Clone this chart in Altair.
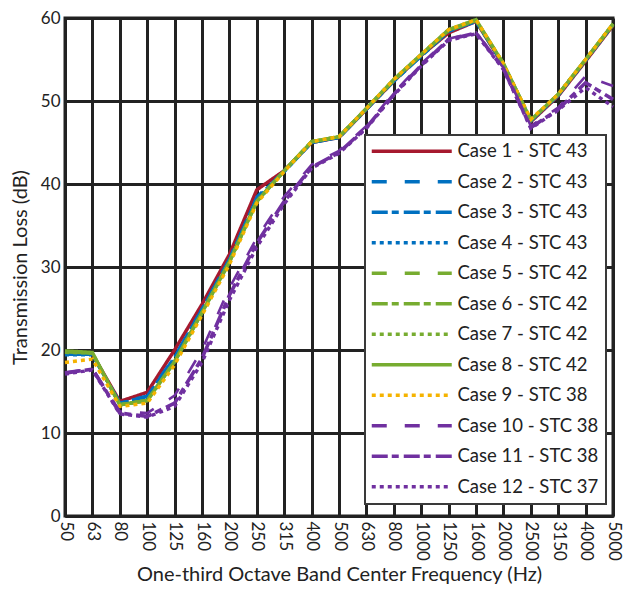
import altair as alt
import pandas as pd

freqs = ["50", "63", "80", "100", "125", "160", "200", "250", "315", "400", "500",
         "630", "800", "1000", "1250", "1600", "2000", "2500", "3150", "4000", "5000"]

labels = ["Case 1 - STC 43", "Case 2 - STC 43", "Case 3 - STC 43", "Case 4 - STC 43",
          "Case 5 - STC 42", "Case 6 - STC 42", "Case 7 - STC 42", "Case 8 - STC 42",
          "Case 9 - STC 38", "Case 10 - STC 38", "Case 11 - STC 38", "Case 12 - STC 37"]

case1 = [19.5, 19.5, 13.8, 14.9, 20.0, 25.5, 31.5, 39.3, 41.6, 45.0, 45.6, 49.0, 52.4, 55.5, 58.2, 59.6, 54.3, 47.5, 50.6, 54.8, 59.1]
case2 = [19.6, 19.4, 13.7, 14.5, 19.3, 25.0, 31.0, 38.5, 41.6, 45.0, 45.6, 49.0, 52.4, 55.5, 58.4, 59.6, 54.4, 47.6, 50.7, 54.9, 59.2]
case3 = [19.5, 19.5, 13.6, 14.4, 19.1, 24.9, 30.9, 38.3, 41.5, 45.0, 45.6, 49.0, 52.4, 55.4, 58.4, 59.6, 54.4, 47.6, 50.7, 54.9, 59.2]
case4 = [19.4, 19.4, 13.6, 14.3, 19.0, 24.8, 30.8, 38.2, 41.5, 45.0, 45.6, 49.1, 52.5, 55.5, 58.5, 59.7, 54.4, 47.6, 50.7, 54.9, 59.2]
case5 = [19.8, 19.6, 13.5, 14.0, 18.7, 24.6, 30.7, 38.0, 41.6, 45.1, 45.7, 49.1, 52.5, 55.6, 58.5, 59.7, 54.5, 47.7, 50.8, 55.0, 59.2]
case6 = [19.8, 19.6, 13.4, 13.9, 18.6, 24.5, 30.6, 37.9, 41.6, 45.1, 45.7, 49.1, 52.5, 55.6, 58.5, 59.7, 54.5, 47.7, 50.8, 55.0, 59.2]
case7 = [19.7, 19.6, 13.4, 13.9, 18.6, 24.5, 30.6, 37.9, 41.6, 45.1, 45.7, 49.1, 52.6, 55.6, 58.6, 59.7, 54.5, 47.7, 50.8, 55.0, 59.3]
case8 = [19.9, 19.7, 13.4, 13.9, 18.6, 24.5, 30.6, 37.9, 41.6, 45.1, 45.7, 49.1, 52.6, 55.6, 58.6, 59.8, 54.5, 47.7, 50.8, 55.0, 59.3]
case9 = [18.5, 18.9, 13.2, 13.6, 18.2, 24.2, 30.3, 37.7, 41.5, 45.1, 45.7, 49.1, 52.6, 55.6, 58.6, 59.8, 54.5, 47.8, 50.8, 55.0, 59.3]
case10 = [17.3, 17.8, 12.6, 12.4, 14.5, 20.0, 27.5, 33.5, 38.5, 42.3, 44.0, 47.0, 51.0, 54.5, 57.5, 58.3, 54.0, 47.0, 49.2, 53.0, 51.8]
case11 = [17.2, 17.7, 12.4, 12.0, 13.6, 19.0, 26.6, 32.9, 37.9, 42.0, 43.8, 46.8, 50.8, 54.3, 57.4, 58.2, 53.9, 46.8, 49.0, 52.2, 50.2]
case12 = [17.1, 17.6, 12.3, 11.9, 13.2, 18.5, 26.0, 32.4, 37.6, 41.9, 43.7, 46.7, 50.7, 54.2, 57.3, 58.1, 53.8, 46.7, 48.9, 51.6, 49.3]

series = [case1, case2, case3, case4, case5, case6, case7, case8, case9, case10, case11, case12]

colors = ["#A6192E", "#0070C0", "#0070C0", "#0070C0", "#77AC30", "#77AC30", "#77AC30", "#77AC30",
          "#F5B300", "#7030A0", "#7030A0", "#7030A0"]
dashes = [[1, 0], [15, 18], [16, 4, 7, 5], [4, 4], [15, 18], [16, 4, 7, 5], [4, 4], [1, 0],
          [4, 4], [15, 18], [16, 4, 7, 5], [4, 4]]
widths = [3.5, 2.5, 3.5, 3.2, 2.2, 3.5, 3.2, 3.5, 3.4, 2.6, 3.6, 3.4]

rows = []
for lab, vals, w in zip(labels, series, widths):
    for f, v in zip(freqs, vals):
        rows.append({"freq": f, "tl": v, "case": lab, "w": w})
df = pd.DataFrame(rows)

FONT = "Lato"
INK = "#222222"

legend = alt.Legend(
    title=None,
    orient="none",
    legendX=300,
    legendY=117,
    symbolType="M-1.9,0H14.1",
    symbolSize=100,
    symbolStrokeWidth=3.5,
    labelOffset=67,
    labelFontSize=18.5,
    labelFont=FONT,
    labelColor=INK,
    labelLimit=400,
    rowPadding=11.5,
    padding=7,
    fillColor="white",
    strokeColor="#3a3a3a",
)

chart = alt.Chart(df).mark_line().encode(
    x=alt.X("freq:N", sort=freqs, scale=alt.Scale(type="point", padding=0),
            axis=alt.Axis(title="One-third Octave Band Center Frequency (Hz)", labelAngle=90,
                          grid=True, ticks=False, labelPadding=5, titlePadding=4)),
    y=alt.Y("tl:Q", scale=alt.Scale(domain=[0, 60], nice=False),
            axis=alt.Axis(title="Transmission Loss (dB)", values=[0, 10, 20, 30, 40, 50, 60],
                          grid=True, ticks=False, labelPadding=5, titlePadding=10)),
    color=alt.Color("case:N", scale=alt.Scale(domain=labels, range=colors), legend=legend),
    strokeDash=alt.StrokeDash("case:N", scale=alt.Scale(domain=labels, range=dashes), legend=legend),
    strokeWidth=alt.StrokeWidth("w:Q", scale=None),
).properties(
    width=548,
    height=498,
    autosize=alt.AutoSizeParams(type="none"),
    padding={"left": 57, "top": 10, "right": 12, "bottom": 70},
).configure_view(
    stroke=INK, strokeWidth=3
).configure_axis(
    gridColor=INK, gridWidth=3, gridOpacity=1, domainColor=INK, domainWidth=3,
    labelFont=FONT, labelFontSize=17, labelColor=INK,
    titleFont=FONT, titleFontSize=20, titleFontWeight="normal", titleColor=INK,
).configure_legend(
    strokeWidth=2
)

chart.save("out.html", embed_options={"renderer": "svg", "actions": False})
